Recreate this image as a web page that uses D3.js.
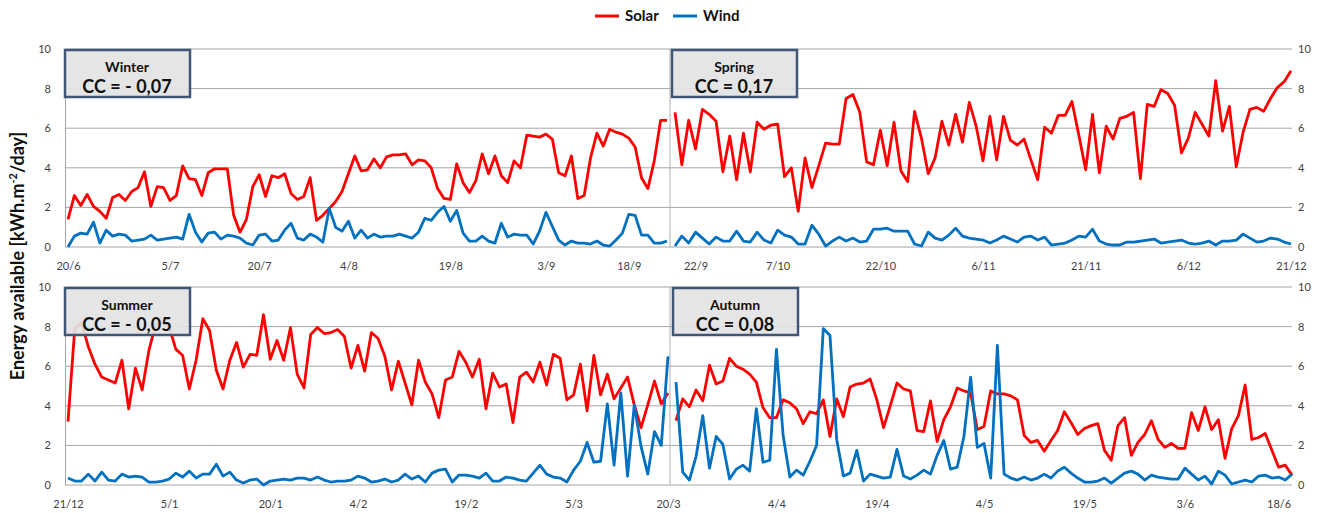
<!DOCTYPE html>
<html>
<head>
<meta charset="utf-8">
<script src="https://d3js.org/d3.v7.min.js"></script>
<style>
  body { margin: 0; background: #fff; }
  svg text { font-family: Lato, "Open Sans", sans-serif; }
  .tick text { fill: #404040; font-size: 11px; }
</style>
</head>
<body>
<svg id="chart" width="1317" height="513"></svg>
<script>
// daily energy available, kWh.m-2/day
var winterSolar = [1.4, 2.6, 2.1, 2.65, 2.05, 1.8, 1.45, 2.5, 2.65, 2.35, 2.8, 3.0, 3.8, 2.05, 3.05, 3.0, 2.35, 2.6, 4.1, 3.45, 3.4, 2.6, 3.75, 3.95, 3.95, 3.95, 1.6, 0.75, 1.4, 3.05, 3.65, 2.55, 3.6, 3.5, 3.7, 2.7, 2.4, 2.55, 3.5, 1.35, 1.6, 1.95, 2.3, 2.8, 3.7, 4.6, 3.85, 3.9, 4.45, 4.0, 4.55, 4.65, 4.65, 4.7, 4.15, 4.4, 4.35, 4.0, 2.95, 2.45, 2.4, 4.2, 3.25, 2.75, 3.35, 4.7, 3.7, 4.6, 3.6, 3.25, 4.35, 4.0, 5.65, 5.6, 5.55, 5.7, 5.45, 3.75, 3.6, 4.6, 2.45, 2.6, 4.5, 5.75, 5.1, 5.95, 5.8, 5.7, 5.5, 5.05, 3.5, 2.95, 4.35, 6.4, 6.4];
var winterWind = [0.0, 0.55, 0.7, 0.65, 1.25, 0.2, 0.85, 0.55, 0.65, 0.6, 0.3, 0.35, 0.4, 0.6, 0.35, 0.4, 0.45, 0.5, 0.4, 1.65, 0.75, 0.25, 0.7, 0.75, 0.4, 0.6, 0.55, 0.45, 0.2, 0.1, 0.6, 0.65, 0.3, 0.35, 0.85, 1.2, 0.45, 0.35, 0.65, 0.5, 0.25, 1.95, 1.0, 0.8, 1.3, 0.45, 0.85, 0.45, 0.65, 0.5, 0.55, 0.55, 0.65, 0.55, 0.45, 0.75, 1.45, 1.35, 1.75, 2.05, 1.3, 1.85, 0.7, 0.3, 0.3, 0.55, 0.3, 0.2, 1.2, 0.5, 0.65, 0.6, 0.6, 0.15, 0.8, 1.75, 1.05, 0.35, 0.1, 0.3, 0.2, 0.2, 0.15, 0.3, 0.1, 0.05, 0.35, 0.7, 1.65, 1.6, 0.6, 0.6, 0.2, 0.2, 0.3];

var springSolar = [6.8, 4.15, 6.4, 4.95, 6.95, 6.7, 6.35, 3.8, 5.6, 3.4, 5.75, 3.8, 6.3, 5.95, 6.15, 6.2, 3.55, 4.0, 1.8, 4.5, 3.0, 4.1, 5.25, 5.2, 5.2, 7.5, 7.7, 6.8, 4.3, 4.15, 5.9, 4.1, 6.3, 3.85, 3.3, 6.85, 5.5, 3.7, 4.5, 6.35, 5.15, 6.7, 5.3, 7.3, 6.1, 4.35, 6.6, 4.4, 6.6, 5.4, 5.15, 5.45, 4.4, 3.4, 6.05, 5.75, 6.65, 6.65, 7.35, 5.65, 3.9, 6.7, 3.75, 6.1, 5.45, 6.5, 6.6, 6.8, 3.45, 7.2, 7.1, 7.95, 7.75, 7.15, 4.75, 5.5, 6.8, 6.2, 5.6, 8.4, 5.85, 7.1, 4.05, 5.8, 6.95, 7.05, 6.85, 7.5, 8.05, 8.35, 8.9];
var springWind = [0.05, 0.55, 0.2, 0.75, 0.45, 0.15, 0.5, 0.3, 0.3, 0.8, 0.3, 0.25, 0.75, 0.35, 0.2, 0.85, 0.6, 0.5, 0.15, 0.15, 1.1, 0.65, 0.05, 0.3, 0.5, 0.3, 0.45, 0.25, 0.3, 0.9, 0.9, 0.95, 0.8, 0.8, 0.8, 0.15, 0.05, 0.75, 0.45, 0.35, 0.6, 0.95, 0.55, 0.45, 0.4, 0.35, 0.2, 0.35, 0.55, 0.4, 0.25, 0.5, 0.55, 0.35, 0.5, 0.1, 0.15, 0.2, 0.35, 0.55, 0.5, 0.9, 0.3, 0.15, 0.1, 0.1, 0.25, 0.25, 0.3, 0.35, 0.4, 0.2, 0.25, 0.3, 0.35, 0.2, 0.15, 0.2, 0.3, 0.1, 0.3, 0.3, 0.35, 0.65, 0.45, 0.25, 0.3, 0.45, 0.4, 0.25, 0.15];

var summerSolar = [3.2, 7.9, 8.2, 7.0, 6.1, 5.45, 5.3, 5.15, 6.3, 3.85, 5.9, 4.8, 6.8, 8.1, 8.3, 8.0, 6.85, 6.55, 4.85, 6.3, 8.4, 7.8, 5.8, 4.85, 6.3, 7.2, 5.95, 6.6, 6.55, 8.6, 6.35, 7.3, 6.3, 7.95, 5.6, 4.9, 7.6, 7.95, 7.65, 7.7, 7.85, 7.5, 5.9, 7.05, 5.75, 7.7, 7.4, 6.5, 4.8, 6.25, 5.15, 4.05, 6.3, 5.2, 4.6, 3.4, 5.3, 5.45, 6.75, 6.2, 5.45, 6.35, 3.85, 5.65, 4.95, 5.1, 3.15, 5.45, 5.7, 5.2, 6.2, 5.05, 6.6, 6.4, 4.3, 4.55, 6.1, 3.75, 6.55, 4.55, 5.6, 4.35, 4.9, 5.45, 4.05, 2.9, 4.05, 5.25, 4.1, 4.65];
var summerWind = [0.35, 0.2, 0.2, 0.55, 0.2, 0.65, 0.25, 0.2, 0.55, 0.4, 0.45, 0.4, 0.15, 0.15, 0.2, 0.3, 0.6, 0.4, 0.7, 0.35, 0.55, 0.55, 1.05, 0.45, 0.65, 0.25, 0.1, 0.25, 0.3, 0.0, 0.2, 0.25, 0.3, 0.25, 0.35, 0.35, 0.25, 0.4, 0.25, 0.15, 0.2, 0.2, 0.25, 0.45, 0.35, 0.15, 0.2, 0.3, 0.15, 0.25, 0.55, 0.3, 0.45, 0.15, 0.6, 0.75, 0.8, 0.15, 0.5, 0.5, 0.45, 0.35, 0.6, 0.2, 0.2, 0.4, 0.35, 0.25, 0.2, 0.6, 1.0, 0.55, 0.4, 0.35, 0.15, 0.75, 1.2, 2.15, 1.15, 1.2, 4.1, 1.0, 4.65, 0.45, 4.05, 1.95, 0.55, 2.7, 2.0, 6.5];

var autumnSolar = [3.25, 4.35, 3.95, 4.8, 4.25, 6.05, 5.1, 5.25, 6.4, 6.0, 5.85, 5.6, 5.2, 3.9, 3.4, 3.4, 4.3, 4.15, 3.85, 3.1, 3.7, 3.6, 4.3, 2.45, 4.35, 3.45, 4.95, 5.1, 5.15, 5.35, 4.3, 2.9, 4.0, 5.15, 4.85, 4.75, 2.75, 2.7, 4.25, 2.2, 3.3, 3.95, 4.9, 4.75, 4.65, 2.8, 2.95, 4.75, 4.6, 4.6, 4.5, 4.3, 2.5, 2.15, 2.25, 1.7, 2.25, 2.75, 3.7, 3.15, 2.55, 2.85, 3.0, 3.1, 1.75, 1.25, 3.0, 3.4, 1.5, 2.15, 2.55, 3.25, 2.3, 1.9, 2.1, 1.85, 1.85, 3.65, 2.75, 3.95, 2.8, 3.3, 1.35, 2.85, 3.5, 5.05, 2.3, 2.4, 2.6, 1.75, 0.9, 1.0, 0.5];
var autumnWind = [5.2, 0.65, 0.25, 1.45, 3.5, 0.85, 2.45, 2.05, 0.3, 0.8, 1.0, 0.7, 3.85, 1.15, 1.25, 6.85, 2.5, 0.4, 0.75, 0.5, 1.2, 2.0, 7.9, 7.55, 2.3, 0.45, 0.6, 1.75, 0.2, 0.55, 0.45, 0.35, 0.4, 1.8, 0.45, 0.3, 0.5, 0.75, 0.55, 1.5, 2.25, 0.8, 0.9, 2.45, 5.45, 1.9, 2.1, 0.35, 7.05, 0.55, 0.35, 0.25, 0.4, 0.25, 0.35, 0.55, 0.35, 0.7, 0.9, 0.6, 0.35, 0.15, 0.15, 0.2, 0.35, 0.1, 0.35, 0.6, 0.7, 0.55, 0.25, 0.5, 0.4, 0.35, 0.3, 0.3, 0.85, 0.55, 0.25, 0.45, 0.05, 0.7, 0.5, 0.05, 0.15, 0.25, 0.15, 0.45, 0.5, 0.35, 0.4, 0.25, 0.55];

// date labels and the day (index) each one sits on
var winterTicks = ["20/6", "5/7", "20/7", "4/8", "19/8", "3/9", "18/9"];
var winterTickIdx = [0, 16, 30, 44, 60, 75, 88];
var springTicks = ["22/9", "7/10", "22/10", "6/11", "21/11", "6/12", "21/12"];
var springTickIdx = [3, 15, 30, 45, 60, 75, 90];
var summerTicks = ["21/12", "5/1", "20/1", "4/2", "19/2", "5/3", "20/3"];
var summerTickIdx = [0, 15, 30, 43, 59, 75, 89];
var autumnTicks = ["4/4", "19/4", "4/5", "19/5", "3/6", "18/6"];
var autumnTickIdx = [15, 30, 46, 61, 76, 90];

var yTicks = [0, 2, 4, 6, 8, 10];
var seriesNames = ["Solar", "Wind"];
var seriesColors = ["#ff0000", "#0070c0"];

var svg = d3.select("#chart");

var plotLeft = 65, plotRight = 1292, divider = 670;

var rows = [
  { top: 49, bottom: 247,
    panels: [
      { name: "Winter", cc: "CC = - 0,07", solar: winterSolar, wind: winterWind, ticks: winterTicks, tickIdx: winterTickIdx, x0: 68, x1: 667 },
      { name: "Spring", cc: "CC = 0,17", solar: springSolar, wind: springWind, ticks: springTicks, tickIdx: springTickIdx, x0: 675, x1: 1291 }
    ] },
  { top: 287, bottom: 485,
    panels: [
      { name: "Summer", cc: "CC = - 0,05", solar: summerSolar, wind: summerWind, ticks: summerTicks, tickIdx: summerTickIdx, x0: 68, x1: 668 },
      { name: "Autumn", cc: "CC = 0,08", solar: autumnSolar, wind: autumnWind, ticks: autumnTicks, tickIdx: autumnTickIdx, x0: 676, x1: 1292 }
    ] }
];

rows.forEach(function (row) {
  var y = d3.scaleLinear().domain([0, 10]).range([row.bottom, row.top]);

  // gridlines
  svg.append("g")
    .selectAll("line")
    .data(yTicks)
    .enter()
    .append("line")
    .attr("x1", plotLeft)
    .attr("x2", plotRight)
    .attr("y1", function (d) { return y(d); })
    .attr("y2", function (d) { return y(d); })
    .attr("stroke", "#a6a6a6")
    .attr("stroke-width", 1);

  // left axis + right axis
  var la = svg.append("g")
    .attr("transform", "translate(" + plotLeft + ",0)")
    .call(d3.axisLeft(y).tickValues(yTicks).tickSize(0).tickPadding(14));
  la.select(".domain").attr("stroke", "#a6a6a6");

  var ra = svg.append("g")
    .attr("transform", "translate(" + plotRight + ",0)")
    .call(d3.axisRight(y).tickValues(yTicks).tickSize(0).tickPadding(6));
  ra.select(".domain").remove();

  // divider between the two seasons
  svg.append("line")
    .attr("x1", divider).attr("x2", divider)
    .attr("y1", row.top).attr("y2", row.bottom)
    .attr("stroke", "#b0b0b0")
    .attr("stroke-width", 1);

  row.panels.forEach(function (p) {
    var x = d3.scaleLinear().domain([0, p.solar.length - 1]).range([p.x0, p.x1]);

    var xa = svg.append("g")
      .attr("transform", "translate(0," + row.bottom + ")")
      .call(d3.axisBottom(x).tickValues(p.tickIdx)
        .tickFormat(function (d, i) { return p.ticks[i]; })
        .tickSize(0).tickPadding(15));
    xa.select(".domain").remove();

    var line = d3.line()
      .x(function (d, i) { return x(i); })
      .y(function (d) { return y(d); });

    [p.solar, p.wind].forEach(function (s, k) {
      svg.append("path")
        .datum(s)
        .attr("d", line)
        .attr("fill", "none")
        .attr("stroke", seriesColors[k])
        .attr("stroke-width", 2.8)
        .attr("stroke-linejoin", "round");
    });

    // season text box
    var bx = p.x0 - 3, by = row.top + 1;
    svg.append("rect")
      .attr("x", bx).attr("y", by)
      .attr("width", 125).attr("height", 47)
      .attr("fill", "#e3e3e3")
      .attr("fill-opacity", 0.92)
      .attr("stroke", "#3f5676")
      .attr("stroke-width", 2.5);
    svg.append("text")
      .attr("x", bx + 62).attr("y", by + 22)
      .attr("text-anchor", "middle")
      .attr("font-size", "14px")
      .attr("font-weight", "bold")
      .attr("fill", "#111")
      .text(p.name);
    svg.append("text")
      .attr("x", bx + 62).attr("y", by + 43)
      .attr("text-anchor", "middle")
      .attr("font-size", "18px")
      .attr("font-weight", "bold")
      .attr("fill", "#111")
      .text(p.cc);
  });
});

// legend
var legend = svg.append("g").attr("transform", "translate(595,16)");
var lx = [0, 78];
seriesNames.forEach(function (n, i) {
  legend.append("line")
    .attr("x1", lx[i]).attr("x2", lx[i] + 24)
    .attr("y1", 0).attr("y2", 0)
    .attr("stroke", seriesColors[i])
    .attr("stroke-width", 3);
  legend.append("text")
    .attr("x", lx[i] + 30).attr("y", 5)
    .attr("font-size", "15px")
    .attr("font-weight", "bold")
    .attr("fill", "#111")
    .text(n);
});

// y axis title
var yt = svg.append("text")
  .attr("transform", "translate(24,256) rotate(-90)")
  .attr("text-anchor", "middle")
  .attr("font-size", "18px")
  .attr("font-weight", "bold")
  .attr("fill", "#111");
yt.append("tspan").text("Energy available [kWh.m");
yt.append("tspan").attr("font-size", "11px").attr("dy", "-7").text("-2");
yt.append("tspan").attr("dy", "7").text("/day]");
</script>
</body>
</html>
